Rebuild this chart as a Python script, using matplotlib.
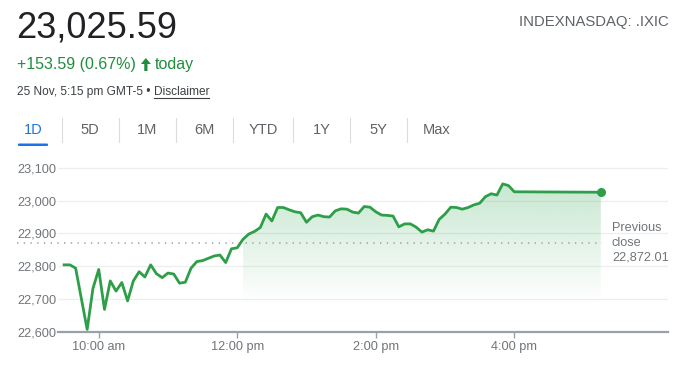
import numpy as np
import pandas as pd
import matplotlib
matplotlib.use("Agg")
import matplotlib.pyplot as plt
from matplotlib.colors import to_rgb
from matplotlib.patches import FancyBboxPatch, Polygon
from matplotlib.lines import Line2D
from matplotlib.path import Path

plt.rcParams['font.family'] = ['Liberation Sans', 'DejaVu Sans']

# ---------------- data ----------------
session_values = [
    22804, 22804, 22794, 22700, 22607, 22732, 22790, 22668, 22755, 22724,
    22750, 22694, 22755, 22783, 22767, 22804, 22777, 22765, 22779, 22776,
    22748, 22751, 22794, 22814, 22817, 22824, 22831, 22834, 22811, 22853,
    22856, 22882, 22898, 22906, 22918, 22959, 22938, 22979, 22979, 22972,
    22966, 22963, 22934, 22951, 22956, 22951, 22950, 22969, 22975, 22974,
    22965, 22962, 22982, 22980, 22966, 22956, 22955, 22953, 22920, 22929,
    22929, 22919, 22904, 22911, 22907, 22943, 22959, 22980, 22979, 22974,
    22979, 22987, 22992, 23012, 23021, 23017, 23051, 23046, 23027,
]
after_hours_time = "17:15"
after_hours_value = 23025.59
previous_close = 22872.01
last_price = "23,025.59"
change_text = "+153.59 (0.67%)"
date_text = "25 Nov, 5:15 pm GMT-5"
ticker = "INDEXNASDAQ: .IXIC"
y_ticks = [22600, 22700, 22800, 22900, 23000, 23100]
x_ticks = [10, 12, 14, 16]
x_tick_labels = ["10:00 am", "12:00 pm", "2:00 pm", "4:00 pm"]
tabs = ["1D", "5D", "1M", "6M", "YTD", "1Y", "5Y", "Max"]

times = pd.date_range("2025-11-25 09:30", periods=len(session_values), freq="5min")
times = list(times) + [pd.Timestamp("2025-11-25 " + after_hours_time)]
hours = np.array([t.hour + t.minute / 60 for t in times])
values = np.array(session_values + [after_hours_value], dtype=float)

# ---------------- figure ----------------
W, H = 694, 368
fig = plt.figure(figsize=(W / 100, H / 100), dpi=100)
fig.patch.set_facecolor("white")

def fx(x):
    return x / W

def fy(y):
    return 1 - y / H

ax_left, ax_right, ax_bottom, ax_top = 58, 668, 331.7, 160
ax = fig.add_axes([fx(ax_left), fy(ax_bottom), (ax_right - ax_left) / W, (ax_bottom - ax_top) / H])
ax.set_xlim(9.412, 18.22)
ax.set_ylim(22600, 23124)

line_color = "#2e9f48"
gray_text = "#70757a"

# gradient fill (only where above previous close)
above = values >= previous_close
poly = ax.fill_between(hours, values, 22600, where=above, color="none", lw=0)
grad_h = 256
yy = np.linspace(22600, 23124, grad_h)
alpha = np.clip((yy - 22690) / (23060 - 22690), 0, 1) * 0.28
rgba = np.zeros((grad_h, 2, 4))
rgba[..., :3] = to_rgb("#34a853")
rgba[..., 3] = alpha[:, None]
im = ax.imshow(rgba, extent=[9.412, 18.22, 22600, 23124], origin="lower",
               aspect="auto", zorder=1, interpolation="bilinear")
paths = poly.get_paths()
if paths:
    verts = np.concatenate([p.vertices for p in paths])
    codes = np.concatenate([p.codes if p.codes is not None else
                            np.r_[Path.MOVETO, [Path.LINETO] * (len(p.vertices) - 1)]
                            for p in paths])
    im.set_clip_path(Path(verts, codes), transform=ax.transData)

# gridlines
for v in y_ticks[1:]:
    ax.axhline(v, color="#eeeeee", lw=0.9, zorder=0.5)

# previous close dotted line (extends left under labels)
x0, x1 = ax.get_xlim()
px_per_unit = (ax_right - ax_left) / (x1 - x0)
x_left_dots = x0 - (ax_left - 17) / px_per_unit
ax.plot([x_left_dots, hours[-1] + 0.02], [previous_close, previous_close],
        color="#9aa0a6", lw=1.1, linestyle=(0, (0.9, 3.5)), clip_on=False, zorder=2)

# price line
ax.plot(hours, values, color=line_color, lw=2.0, zorder=3, solid_joinstyle="round")
ax.plot(hours[-1], values[-1], "o", color=line_color, ms=5.5, zorder=4)

# axes styling
for s in ["top", "right", "left"]:
    ax.spines[s].set_visible(False)
ax.spines["bottom"].set_color("#9aa0a6")
ax.spines["bottom"].set_linewidth(1.6)
ax.set_facecolor("none")
ax.set_yticks(y_ticks)
ax.set_yticklabels([f"{v:,}" for v in y_ticks])
ax.tick_params(axis="y", length=0, pad=1, labelsize=9.2, labelcolor=gray_text)
ax.set_xticks(x_ticks)
ax.set_xticklabels(x_tick_labels)
ax.tick_params(axis="x", length=4, width=1, color="#9aa0a6", pad=3,
               labelsize=9.2, labelcolor=gray_text)

# previous close label
fig.text(fx(612), fy(228), "Previous", fontsize=9.2, color=gray_text, va="center", ha="left")
fig.text(fx(612), fy(243), "close", fontsize=9.2, color=gray_text, va="center", ha="left")
fig.text(fx(612), fy(258), f"{previous_close:,.2f}", fontsize=9.2, color=gray_text,
         va="center", ha="left")

# ---------------- header ----------------
fig.text(fx(16), fy(28.5), last_price, fontsize=26, color="#202124", va="center", ha="left")
fig.text(fx(669), fy(22), ticker, fontsize=10.7, color="#5f6368", va="center", ha="right")
green_text = "#1e8e3e"
t1 = fig.text(fx(17), fy(64), change_text, fontsize=11.5,
              color=green_text, va="center", ha="left")
fig.canvas.draw()
xa = t1.get_window_extent().x1 + 5  # left edge of arrow, px
# bold up arrow drawn as polygon (pixel coords from top)
cx = xa + 5
top, head_bot, bot = 58, 64, 71
arrow_pts = [(cx, top), (cx + 5, head_bot), (cx + 1.6, head_bot), (cx + 1.6, bot),
             (cx - 1.6, bot), (cx - 1.6, head_bot), (cx - 5, head_bot)]
fig.add_artist(Polygon([(fx(px), fy(py)) for px, py in arrow_pts], closed=True,
                       facecolor=green_text, edgecolor="none", transform=fig.transFigure))
fig.text((cx + 9) / W, fy(64), "today", fontsize=11.5, color=green_text,
         va="center", ha="left")

dt = fig.text(fx(17), fy(92), date_text + " \u2022 ", fontsize=8.6, color="#3c4043",
              va="center", ha="left")
fig.canvas.draw()
bb = dt.get_window_extent()
disc = fig.text(bb.x1 / W, fy(92), "Disclaimer", fontsize=8.6, color="#3c4043",
                va="center", ha="left")
fig.canvas.draw()
bb2 = disc.get_window_extent()
fig.add_artist(Line2D([bb2.x0 / W, bb2.x1 / W], [fy(98), fy(98)], color="#3c4043", lw=0.8))

# tabs
tab_centers = [33, 90, 147, 204, 263, 322, 378, 437]
sep_x = [62, 119, 176, 233, 293, 350, 407]
for name, tcx in zip(tabs, tab_centers):
    fig.text(fx(tcx), fy(130), name, fontsize=10.5,
             color="#1a73e8" if name == "1D" else "#5f6368", va="center", ha="center")
for sx in sep_x:
    fig.add_artist(Line2D([fx(sx), fx(sx)], [fy(118), fy(142)], color="#dadce0", lw=0.8))
fig.add_artist(FancyBboxPatch((fx(18), fy(146)), fx(30), 2.5 / H,
                              boxstyle="round,pad=0,rounding_size=0.002",
                              facecolor="#1a73e8", edgecolor="none"))

fig.savefig("out.png", dpi=100)
